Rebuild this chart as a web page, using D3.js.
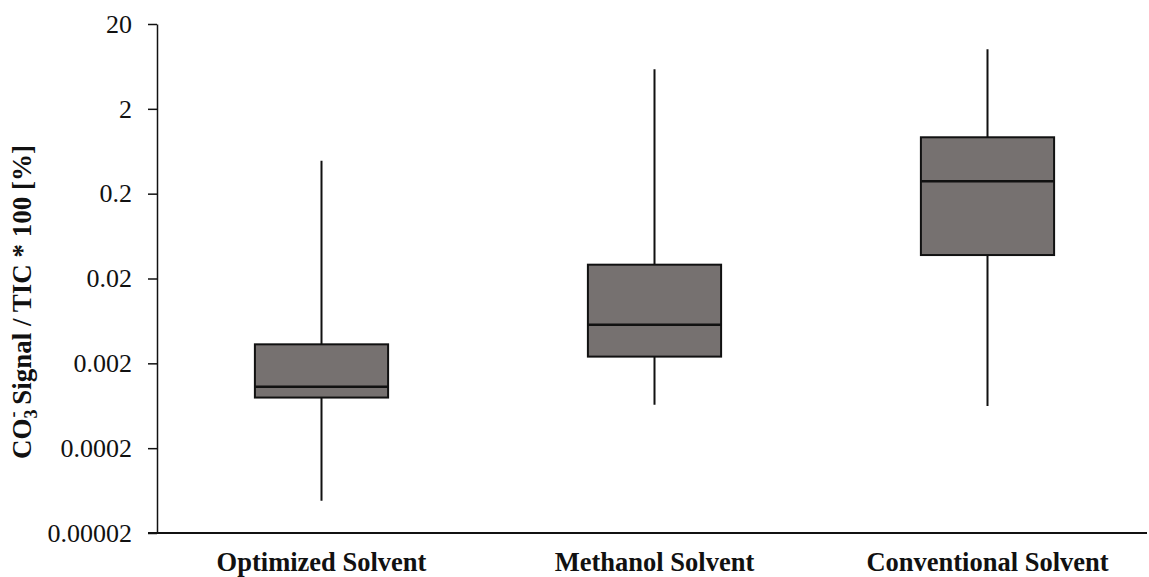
<!DOCTYPE html>
<html>
<head>
<meta charset="utf-8">
<script src="https://cdn.jsdelivr.net/npm/d3@7"></script>
<style>
  body { margin: 0; background: #fff; }
  svg text { font-family: "Liberation Serif", "Times New Roman", serif; fill: #111; }
</style>
</head>
<body>
<svg width="1149" height="577"></svg>
<script>
// categories and five-number summaries
const categories = ["Optimized Solvent", "Methanol Solvent", "Conventional Solvent"];
const whiskerLow  = [0.000048, 0.00065, 0.00063];
const q1          = [0.00079, 0.0024, 0.0378];
const median      = [0.00106, 0.0057, 0.28];
const q3          = [0.00335, 0.0291, 0.924];
const whiskerHigh = [0.489, 5.85, 10.1];
const yTicks = [0.00002, 0.0002, 0.002, 0.02, 0.2, 2, 20];
const yTickLabels = ["0.00002", "0.0002", "0.002", "0.02", "0.2", "2", "20"];

const svg = d3.select("svg");
const margin = { top: 24, left: 157, bottom: 533, right: 1147 };

const y = d3.scaleLog()
    .domain([0.00002, 20])
    .range([margin.bottom, margin.top]);

const x = d3.scaleBand()
    .domain(categories)
    .range([margin.left - 2, margin.left + 997])
    .paddingInner(0)
    .paddingOuter(0);

const boxW = x.bandwidth() * 0.4;

// y axis
const yAxis = svg.append("g")
    .attr("transform", `translate(${margin.left},0)`)
    .call(d3.axisLeft(y).tickValues(yTicks).tickFormat((d, i) => yTickLabels[i]).tickSize(9).tickSizeOuter(0));
yAxis.select(".domain").attr("stroke", "#111").attr("stroke-width", 1.5);
yAxis.selectAll(".tick line").attr("stroke", "#111").attr("stroke-width", 1.5);
yAxis.selectAll(".tick text")
    .attr("x", -25)
    .style("font-size", "26px")
    .style("font-family", "Liberation Serif, serif")
    .attr("fill", "#222");

// x axis line (no ticks)
svg.append("line")
    .attr("x1", margin.left - 9).attr("x2", margin.right)
    .attr("y1", y(0.00002)).attr("y2", y(0.00002))
    .attr("stroke", "#111").attr("stroke-width", 2);

// x labels
svg.append("g").selectAll("text")
    .data(categories)
    .join("text")
    .attr("x", d => x(d) + x.bandwidth() / 2)
    .attr("y", 571)
    .attr("text-anchor", "middle")
    .style("font-size", "26.5px")
    .style("font-weight", "bold")
    .text(d => d);

// y label
const ylab = svg.append("text")
    .attr("transform", "translate(31,302) rotate(-90)")
    .attr("text-anchor", "middle")
    .style("font-size", "27px")
    .style("font-weight", "bold");
ylab.append("tspan").text("CO");
ylab.append("tspan").attr("dy", 6).style("font-size", "18px").text("3");
ylab.append("tspan").attr("dx", -8).attr("dy", -18).style("font-size", "18px").text("-");
ylab.append("tspan").attr("dy", 12).text(" Signal / TIC * 100 [%]");

// boxes
const boxes = svg.append("g").selectAll("g")
    .data(categories)
    .join("g")
    .attr("transform", d => `translate(${x(d) + x.bandwidth() / 2},0)`);

boxes.append("line")
    .attr("y1", (d, i) => y(whiskerLow[i]))
    .attr("y2", (d, i) => y(whiskerHigh[i]))
    .attr("stroke", "#111")
    .attr("stroke-width", 2);

boxes.append("rect")
    .attr("x", -boxW / 2)
    .attr("width", boxW)
    .attr("y", (d, i) => y(q3[i]))
    .attr("height", (d, i) => y(q1[i]) - y(q3[i]))
    .attr("fill", "#767170")
    .attr("stroke", "#111")
    .attr("stroke-width", 2);

boxes.append("line")
    .attr("x1", -boxW / 2).attr("x2", boxW / 2)
    .attr("y1", (d, i) => y(median[i]))
    .attr("y2", (d, i) => y(median[i]))
    .attr("stroke", "#111")
    .attr("stroke-width", 2.5);
</script>
</body>
</html>
